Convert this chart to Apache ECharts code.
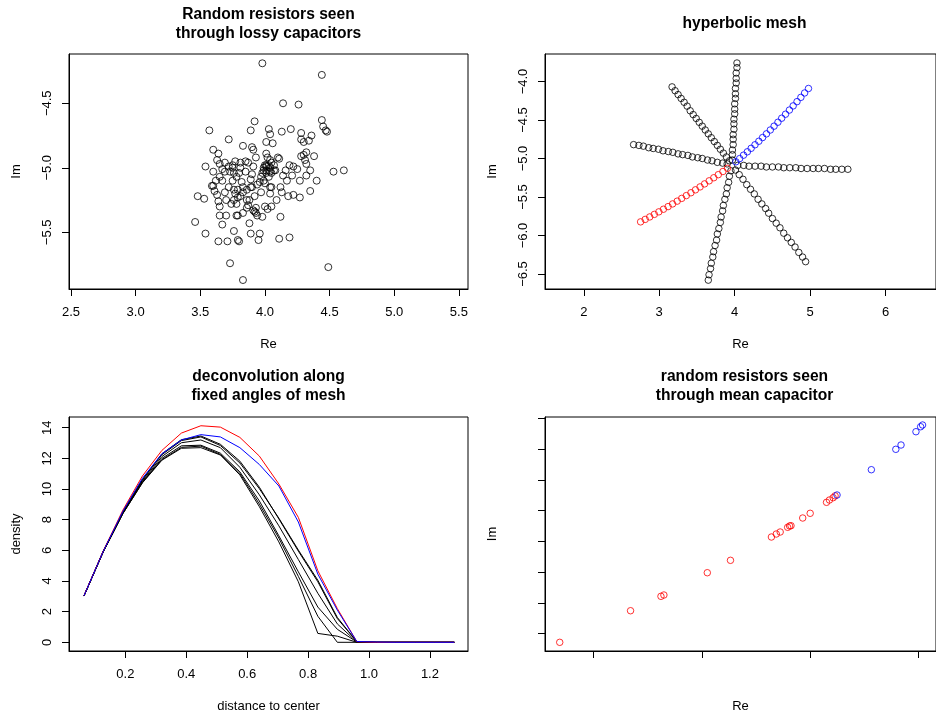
<!DOCTYPE html>
<html>
<head>
<meta charset="utf-8">
<script src="https://cdn.jsdelivr.net/npm/echarts@6/dist/echarts.min.js"></script>
<style>
  html, body { margin: 0; padding: 0; background: #fff; }
  #main { width: 936px; height: 715px; }
</style>
</head>
<body>
<div id="main"></div>
<script>
// panel 1: random resistors seen through lossy capacitors (Re, Im)
var lossyPoints = [
  [3.98,-4.19],[4.44,-4.28],[4.14,-4.50],[4.26,-4.51],[4.44,-4.63],[3.57,-4.71],[3.92,-4.64],[4.45,-4.68],
  [4.47,-4.71],[4.48,-4.72],[3.89,-4.71],[4.03,-4.70],[4.13,-4.72],[4.20,-4.70],[4.04,-4.74],[4.28,-4.73],
  [4.36,-4.75],[4.34,-4.79],[4.28,-4.78],[4.30,-4.80],[3.72,-4.78],[4.01,-4.80],[4.06,-4.81],[3.83,-4.83],
  [3.90,-4.84],[3.91,-4.86],[3.60,-4.86],[3.64,-4.89],[3.93,-4.92],[4.01,-4.89],[4.02,-4.92],[4.30,-4.90],
  [4.28,-4.91],[4.32,-4.88],[4.38,-4.91],[4.31,-4.94],[4.11,-4.93],[4.10,-4.92],[3.63,-4.94],[3.65,-4.97],
  [3.69,-4.96],[3.77,-4.95],[3.81,-4.96],[3.85,-4.95],[3.87,-4.96],[3.91,-4.99],[3.54,-4.99],[3.67,-5.01],
  [3.75,-4.98],[3.75,-5.00],[3.81,-5.00],[4.01,-4.98],[4.00,-4.98],[4.07,-4.98],[4.04,-5.00],[4.08,-5.02],
  [4.19,-4.98],[4.25,-5.01],[3.69,-5.03],[3.73,-5.03],[3.76,-5.04],[3.80,-5.04],[3.90,-5.05],[4.14,-5.06],
  [4.21,-5.06],[4.32,-5.06],[4.53,-5.03],[4.61,-5.02],[4.27,-5.10],[4.40,-5.10],[4.01,-5.04],[4.03,-5.07],
  [3.98,-5.04],[3.99,-5.10],[4.05,-5.04],[4.07,-5.02],[3.99,-5.02],[4.01,-5.02],[4.00,-5.12],[4.04,-5.15],
  [4.05,-5.15],[3.62,-5.10],[3.67,-5.10],[3.75,-5.10],[3.82,-5.11],[3.96,-5.11],[3.89,-5.09],[3.89,-5.15],
  [3.60,-5.14],[3.59,-5.14],[3.61,-5.18],[3.63,-5.21],[3.69,-5.19],[3.76,-5.17],[3.77,-5.20],[3.83,-5.19],
  [3.86,-5.17],[4.18,-5.22],[4.22,-5.21],[4.27,-5.23],[4.35,-5.18],[3.48,-5.22],[3.53,-5.24],[3.64,-5.26],
  [3.76,-5.25],[3.79,-5.23],[3.86,-5.25],[3.88,-5.25],[3.90,-5.15],[3.87,-5.29],[3.86,-5.31],[3.93,-5.31],
  [4.00,-5.30],[4.02,-5.32],[4.05,-5.30],[3.83,-5.35],[3.78,-5.37],[3.79,-5.37],[3.91,-5.33],[3.92,-5.34],
  [3.93,-5.35],[3.94,-5.37],[3.98,-5.38],[4.12,-5.38],[3.65,-5.37],[3.70,-5.37],[3.46,-5.42],[3.67,-5.44],
  [3.88,-5.43],[3.54,-5.51],[3.76,-5.49],[3.89,-5.51],[3.96,-5.51],[3.64,-5.57],[3.71,-5.57],[3.79,-5.56],
  [3.80,-5.57],[3.95,-5.56],[4.11,-5.55],[4.19,-5.54],[3.73,-5.74],[3.83,-5.87],[4.49,-5.77],
  [4.04,-4.94],[4.05,-4.96],[4.01,-4.99],[4.03,-4.98],[3.99,-5.00],[4.04,-5.03],[3.97,-5.07],[3.94,-5.13],
  [3.85,-5.03],[3.78,-5.07],[3.72,-4.99],[3.65,-5.07],[3.60,-5.03],[3.83,-5.15],[3.79,-5.17],[3.72,-5.15],
  [4.16,-5.02],[4.12,-5.15],[4.13,-5.19],[4.17,-5.10],[4.22,-4.99],[4.32,-4.97],[4.35,-5.02],[3.78,-5.28],
  [3.74,-5.28],[3.81,-5.22],[3.70,-5.25],[3.65,-5.30],[3.92,-5.22],[3.97,-5.19],[4.09,-5.25],[4.04,-5.20]
];
var lossyReTicks = [2.5, 3.0, 3.5, 4.0, 4.5, 5.0, 5.5];
var lossyImTicks = [-5.5, -5.0, -4.5];

// panel 2: hyperbolic mesh, one array per ray, from the centre outward
var rayRight = [[4.04,-5.09],[4.12,-5.09],[4.19,-5.10],[4.27,-5.10],[4.35,-5.10],[4.42,-5.11],[4.50,-5.11],[4.58,-5.11],[4.65,-5.12],[4.73,-5.12],
  [4.81,-5.12],[4.88,-5.13],[4.96,-5.13],[5.04,-5.13],[5.11,-5.13],[5.19,-5.13],[5.27,-5.14],[5.34,-5.14],[5.42,-5.14],[5.50,-5.14]];
var rayLeft = [[3.90,-5.07],[3.84,-5.06],[3.77,-5.05],[3.70,-5.03],[3.64,-5.02],[3.57,-5.00],[3.51,-4.99],[3.44,-4.98],[3.38,-4.96],[3.31,-4.95],
  [3.25,-4.94],[3.18,-4.92],[3.12,-4.91],[3.05,-4.90],[2.99,-4.88],[2.92,-4.87],[2.86,-4.86],[2.79,-4.84],[2.73,-4.83],[2.66,-4.82]];
var rayUpLeft = [[3.93,-5.03],[3.89,-4.98],[3.85,-4.93],[3.81,-4.88],[3.77,-4.83],[3.73,-4.78],[3.69,-4.73],[3.65,-4.68],[3.61,-4.63],[3.57,-4.58],
  [3.53,-4.53],[3.49,-4.48],[3.45,-4.43],[3.41,-4.38],[3.37,-4.32],[3.33,-4.27],[3.29,-4.22],[3.25,-4.17],[3.21,-4.12],[3.17,-4.07]];
var rayDownRight = [[4.01,-5.15],[4.06,-5.21],[4.11,-5.27],[4.16,-5.34],[4.21,-5.40],[4.26,-5.46],[4.31,-5.53],[4.36,-5.59],[4.41,-5.65],[4.45,-5.71],
  [4.50,-5.78],[4.55,-5.84],[4.60,-5.90],[4.65,-5.97],[4.70,-6.03],[4.75,-6.09],[4.80,-6.15],[4.85,-6.22],[4.90,-6.28],[4.94,-6.34]];
var rayUp = [[3.97,-5.02],[3.97,-4.95],[3.97,-4.89],[3.98,-4.82],[3.98,-4.75],[3.98,-4.69],[3.99,-4.62],[3.99,-4.55],[3.99,-4.49],[4.00,-4.42],
  [4.00,-4.36],[4.00,-4.29],[4.01,-4.22],[4.01,-4.16],[4.01,-4.09],[4.02,-4.02],[4.02,-3.96],[4.02,-3.89],[4.03,-3.82],[4.03,-3.76]];
var rayDown = [[3.95,-5.16],[3.93,-5.23],[3.92,-5.31],[3.90,-5.38],[3.89,-5.46],[3.87,-5.53],[3.85,-5.61],[3.84,-5.68],[3.82,-5.76],[3.81,-5.83],
  [3.79,-5.91],[3.77,-5.98],[3.76,-6.06],[3.74,-6.13],[3.72,-6.21],[3.71,-6.28],[3.69,-6.36],[3.68,-6.43],[3.66,-6.51],[3.65,-6.58]];
var rayRed = [[3.904,-5.127],[3.844,-5.169],[3.783,-5.210],[3.723,-5.250],[3.662,-5.290],[3.601,-5.330],[3.541,-5.369],[3.480,-5.407],[3.420,-5.445],[3.359,-5.482],
  [3.298,-5.518],[3.238,-5.554],[3.177,-5.590],[3.117,-5.625],[3.056,-5.659],[2.995,-5.693],[2.935,-5.726],[2.874,-5.759],[2.814,-5.791],[2.753,-5.823]];
var rayBlue = [[4.016,-5.043],[4.066,-5.001],[4.117,-4.957],[4.168,-4.913],[4.218,-4.868],[4.269,-4.822],[4.320,-4.776],[4.370,-4.728],[4.421,-4.680],[4.472,-4.630],
  [4.522,-4.580],[4.573,-4.529],[4.623,-4.477],[4.674,-4.425],[4.725,-4.371],[4.775,-4.317],[4.826,-4.262],[4.877,-4.206],[4.927,-4.149],[4.978,-4.091]];
var meshReTicks = [2, 3, 4, 5, 6];
var meshImTicks = [-6.5, -6.0, -5.5, -5.0, -4.5, -4.0];

// panel 3: deconvolution along fixed angles of mesh
var distance = [0.064,0.128,0.192,0.256,0.320,0.384,0.448,0.512,0.576,0.640,0.704,0.768,0.832,0.896,0.960,1.024,1.088,1.152,1.216,1.280];
var densityBlack1 = [3.02,5.98,8.52,10.62,12.30,13.22,13.46,12.92,11.82,10.12,8.05,5.95,3.95,1.55,0.05,0,0,0,0,0];
var densityBlack2 = [3.02,5.97,8.50,10.60,12.24,13.16,13.40,12.84,11.70,10.02,8.10,6.02,4.05,1.62,0.04,0,0,0,0,0];
var densityBlack3 = [3.02,5.95,8.46,10.52,12.12,13.02,13.20,12.70,11.42,9.62,7.60,5.40,3.20,1.20,0.02,0,0,0,0,0];
var densityBlack4 = [3.02,5.93,8.42,10.46,12.00,12.82,12.86,12.34,11.12,9.22,6.95,4.60,2.30,0.85,0.02,0,0,0,0,0];
var densityBlack5 = [3.02,5.92,8.40,10.42,11.92,12.72,12.80,12.26,11.02,9.02,6.80,4.30,1.70,0.00,0.00,0,0,0,0,0];
var densityBlack6 = [3.02,5.92,8.40,10.40,11.88,12.66,12.70,12.22,10.92,8.85,6.55,3.95,0.58,0.40,0.00,0,0,0,0,0];
var densityRed = [3.04,5.98,8.63,10.85,12.52,13.65,14.13,14.04,13.37,12.15,10.33,8.15,4.67,2.20,0.04,0,0,0,0,0];
var densityBlue = [3.03,5.96,8.55,10.70,12.30,13.20,13.55,13.40,12.70,11.60,10.20,7.85,4.45,2.10,0.05,0.02,0,0,0,0];
var distanceTicks = [0.2, 0.4, 0.6, 0.8, 1.0, 1.2];
var densityTicks = [0, 2, 4, 6, 8, 10, 12, 14];

// panel 4: random resistors seen through mean capacitor
var meanRed = [[0.687,-0.280],[1.341,0.747],[1.622,1.215],[1.649,1.258],[2.050,1.982],[2.264,2.385],[2.642,3.143],[2.687,3.240],[2.723,3.305],
  [2.792,3.458],[2.810,3.500],[2.823,3.510],[2.931,3.760],[3.000,3.913],[3.151,4.270],[3.178,4.345],[3.212,4.420],[3.230,4.480]];
var meanBlue = [[3.248,4.508],[3.565,5.330],[3.791,5.993],[3.839,6.133],[3.977,6.565],[4.020,6.727],[4.038,6.783]];
var meanReTicks = [1, 2, 3, 4];
var meanImTicks = [0, 1, 2, 3, 4, 5, 6, 7];

var FONT = "'Liberation Sans', Arial, Helvetica, sans-serif";

function fmt(v, d) {
    return v.toFixed(d).replace('-', '\u2212');
}

function rAxis(grid, min, max, ticks, name, digits, isY, labels) {
    return {
        type: 'value',
        gridIndex: grid,
        min: min,
        max: max,
        name: name,
        nameLocation: 'middle',
        nameGap: isY ? 46 : 49,
        nameTextStyle: { fontFamily: FONT, fontSize: 13, color: '#000' },
        axisLine: { show: true, onZero: false, lineStyle: { color: '#000', width: 1 } },
        axisTick: { show: true, length: 7, customValues: ticks, lineStyle: { color: '#000', width: 1 } },
        axisLabel: {
            show: labels,
            customValues: ticks,
            rotate: isY ? 90 : 0,
            margin: isY ? 15 : 17,
            fontFamily: FONT,
            fontSize: 13,
            color: '#000',
            formatter: function (v) { return fmt(v, digits); }
        },
        splitLine: { show: false }
    };
}

function circles(data, color, grid, size) {
    return {
        type: 'scatter',
        xAxisIndex: grid,
        yAxisIndex: grid,
        data: data,
        symbol: 'circle',
        symbolSize: size,
        silent: true,
        itemStyle: { color: 'rgba(0,0,0,0)', borderColor: color, borderWidth: 1 }
    };
}

function densityLine(values, color) {
    return {
        type: 'line',
        xAxisIndex: 2,
        yAxisIndex: 2,
        data: distance.map(function (d, i) { return [d, values[i]]; }),
        symbol: 'none',
        silent: true,
        lineStyle: { color: color, width: 1 }
    };
}

function titleText(x, y, text) {
    return {
        type: 'text',
        x: x,
        y: y,
        silent: true,
        style: {
            text: text,
            fill: '#000',
            fontFamily: FONT,
            fontSize: 15.6,
            fontWeight: 'bold',
            lineHeight: 19,
            align: 'center',
            verticalAlign: 'middle',
            textAlign: 'center',
            textVerticalAlign: 'middle'
        }
    };
}

var gridBox = { show: true, borderColor: '#000', borderWidth: 1, backgroundColor: 'transparent' };

var chart = echarts.init(document.getElementById('main'));
chart.setOption({
    animation: false,
    backgroundColor: '#fff',
    grid: [
        Object.assign({ left: 69, top: 54, width: 399, height: 235 }, gridBox),
        Object.assign({ left: 545, top: 54, width: 399, height: 235 }, gridBox),
        Object.assign({ left: 69, top: 417, width: 399, height: 234 }, gridBox),
        Object.assign({ left: 545, top: 417, width: 399, height: 234 }, gridBox)
    ],
    xAxis: [
        rAxis(0, 2.4845, 5.5705, lossyReTicks, 'Re', 1, false, true),
        rAxis(1, 1.486, 6.668, meshReTicks, 'Re', 0, false, true),
        rAxis(2, 0.015, 1.325, distanceTicks, 'distance to center', 1, false, true),
        rAxis(3, 0.551, 4.162, meanReTicks, 'Re', 0, false, false)
    ],
    yAxis: [
        rAxis(0, -5.9395, -4.118, lossyImTicks, 'Im', 1, true, true),
        rAxis(1, -6.695, -3.643, meshImTicks, 'Im', 1, true, true),
        rAxis(2, -0.567, 14.70, densityTicks, 'density', 0, true, true),
        rAxis(3, -0.562, 7.043, meanImTicks, 'Im', 0, true, false)
    ],
    graphic: [
        titleText(268.5, 23.8, 'Random resistors seen\nthrough lossy capacitors'),
        titleText(744.5, 23.2, 'hyperbolic mesh'),
        titleText(268.5, 386, 'deconvolution along\nfixed angles of mesh'),
        titleText(744.5, 386, 'random resistors seen\nthrough mean capacitor')
    ],
    series: [
        circles(lossyPoints, '#000', 0, 7),
        circles(rayRight, '#000', 1, 6.5),
        circles(rayLeft, '#000', 1, 6.5),
        circles(rayUpLeft, '#000', 1, 6.5),
        circles(rayDownRight, '#000', 1, 6.5),
        circles(rayUp, '#000', 1, 6.5),
        circles(rayDown, '#000', 1, 6.5),
        circles(rayRed, '#ff0000', 1, 6.5),
        circles(rayBlue, '#0000ff', 1, 6.5),
        densityLine(densityBlack1, '#000'),
        densityLine(densityBlack2, '#000'),
        densityLine(densityBlack3, '#000'),
        densityLine(densityBlack4, '#000'),
        densityLine(densityBlack5, '#000'),
        densityLine(densityBlack6, '#000'),
        densityLine(densityRed, '#ff0000'),
        densityLine(densityBlue, '#0000ff'),
        circles(meanRed, '#ff0000', 3, 6.5),
        circles(meanBlue, '#0000ff', 3, 6.5)
    ]
});
</script>
</body>
</html>
